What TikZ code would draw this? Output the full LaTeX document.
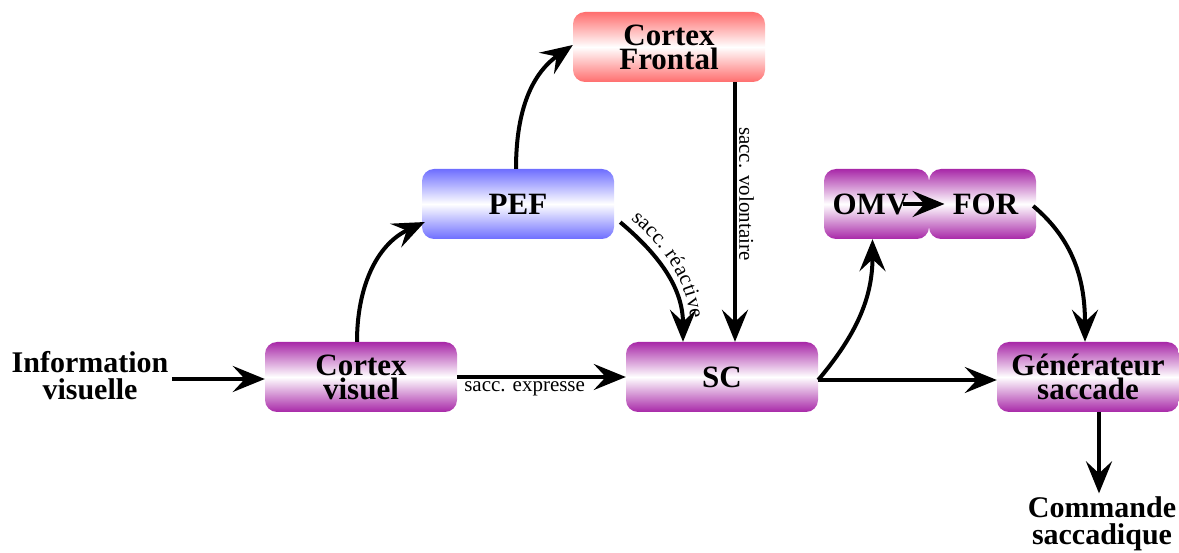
\documentclass[tikz,border=0pt]{standalone}
\usepackage{fontspec}
\setmainfont{Liberation Serif}
\usetikzlibrary{arrows.meta,positioning,decorations.text}
\definecolor{purp}{RGB}{168,40,168}
\definecolor{redc}{RGB}{255,110,110}
\definecolor{bluc}{RGB}{110,110,255}
\tikzset{
  box/.style={rounded corners=12pt, minimum height=70pt, inner sep=0pt, align=center,
    font=\fontsize{31}{24}\selectfont\bfseries},
  purpbox/.style={box, top color=purp, bottom color=purp, middle color=white},
  redbox/.style={box, top color=redc, bottom color=redc, middle color=white},
  bluebox/.style={box, top color=bluc, bottom color=bluc, middle color=white},
  plain/.style={align=center, font=\fontsize{30}{27}\selectfont\bfseries},
  arr/.style={line width=4pt, -{Stealth[length=32pt,width=26pt,inset=12pt]}},
  lab/.style={font=\fontsize{21}{21}\selectfont, inner sep=2pt}
}
\begin{document}
\begin{tikzpicture}[x=1pt,y=1pt]
\useasboundingbox (0,0) rectangle (1179,552);
\node[redbox, minimum width=192pt] (cf) at (669,505) {Cortex\\Frontal};
\node[bluebox, minimum width=192pt] (pef) at (518,348) {PEF};
\node[purpbox, minimum width=192pt] (cv) at (361,175) {Cortex\\visuel};
\node[purpbox, minimum width=192pt] (sc) at (722,175) {SC};
\node[purpbox, minimum width=105pt] (omv) at (876.5,348) {OMV\hspace{12pt}};
\node[purpbox, minimum width=107pt] (for) at (982.5,348) {\hspace{6pt}FOR};
\node[purpbox, minimum width=182pt] (gen) at (1088,175) {Générateur\\saccade};
\node[plain] (info) at (90,176) {Information\\visuelle};
\node[plain] (cmd) at (1102,28) {Commande\\saccadique};

\draw[arr] (info.east) ++(0,-3) coordinate (infoE) -- (infoE -| cv.west);
\draw[arr] (cv.east) -- node[lab, below=1pt, pos=0.4] {sacc. expresse} (sc.west);
\draw[arr] ([xshift=-4pt]cv.north) to[out=90,in=205] ([xshift=3pt,yshift=-18pt]pef.west);
\draw[arr] ([xshift=-2pt]pef.north) to[out=90,in=215] ([yshift=2pt]cf.west);
\draw[arr] ([xshift=6pt,yshift=17pt]pef.south east) to[out=-40,in=90] ([xshift=-39pt]sc.north);
\path[decorate, decoration={text along path, raise=9pt, text align={left indent=6pt},
   text={|\fontsize{21}{21}\selectfont|sacc. réactive}}]
   ([xshift=6pt,yshift=17pt]pef.south east) to[out=-40,in=90] ([xshift=-39pt]sc.north);
\draw[arr] ([xshift=66pt]cf.south) -- node[lab, rotate=-90, anchor=south, pos=0.43] {sacc. volontaire} ([xshift=13pt]sc.north);
\draw[arr] ([yshift=-3pt]sc.east) to[out=50,in=-90] ([xshift=-4pt]omv.south);
\draw[arr] ([yshift=-3pt]sc.east) -- ([yshift=-3pt]gen.west);
\draw[arr] ([xshift=26pt]omv.center) -- ([xshift=-38pt]for.center);
\draw[arr] ([xshift=-3pt,yshift=-2pt]for.east) to[out=-40,in=90] ([xshift=-3pt]gen.north);
\draw[arr] ([xshift=11pt]gen.south) coordinate (gS) -- (gS |- cmd.north);
\end{tikzpicture}
\end{document}
